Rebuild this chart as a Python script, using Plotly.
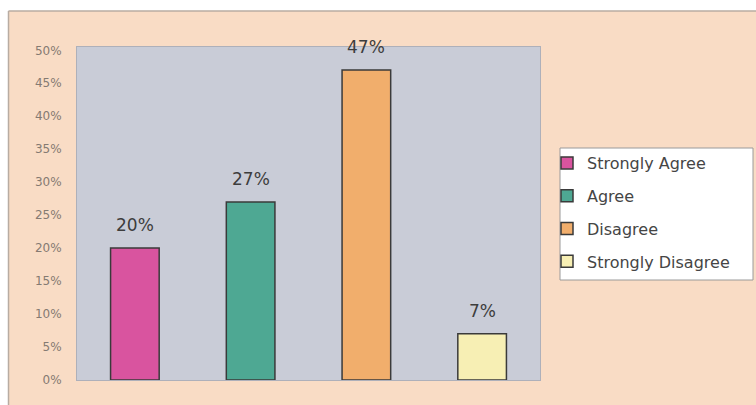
import plotly.graph_objects as go

categories = ["Strongly Agree", "Agree", "Disagree", "Strongly Disagree"]
values = [0.20, 0.27, 0.47, 0.07]
labels = ["20%", "27%", "47%", "7%"]
colors = ["#d9549f", "#4ea893", "#f1ae6c", "#f7efb4"]

W, H = 756, 405
L, R, T, B = 77, 216, 47, 25
pw, ph = W - L - R, H - T - B

def px_x(sx):
    return (sx - L) / pw

def px_y(sy):
    return (H - B - sy) / ph

fig = go.Figure()
for cat, v, c in zip(categories, values, colors):
    fig.add_trace(go.Bar(
        x=[cat], y=[v], name=cat,
        marker=dict(color=c, line=dict(color="#3a3a3a", width=1.5)),
        width=0.42, legendgroup=cat,
    ))

annotations = [
    dict(x=cat, y=v, text=lab, showarrow=False, xref="x", yref="y",
         yanchor="middle", yshift=23,
         font=dict(size=17, color="#3d3d3d", family="DejaVu Sans"))
    for cat, v, lab in zip(categories, values, labels)
]

shapes = [
    # white strips at top and left (outside the framed chart)
    dict(type="rect", xref="paper", yref="paper", x0=px_x(-5), x1=px_x(W + 5),
         y0=px_y(11), y1=px_y(-5), fillcolor="white", line=dict(width=0), layer="below"),
    dict(type="rect", xref="paper", yref="paper", x0=px_x(-5), x1=px_x(8),
         y0=px_y(H + 5), y1=px_y(-5), fillcolor="white", line=dict(width=0), layer="below"),
    dict(type="line", xref="paper", yref="paper", x0=px_x(8.5), x1=px_x(W + 5),
         y0=px_y(11), y1=px_y(11), line=dict(color="#b8aca2", width=1.5)),
    dict(type="line", xref="paper", yref="paper", x0=px_x(8.5), x1=px_x(8.5),
         y0=px_y(11), y1=px_y(H + 5), line=dict(color="#b8aca2", width=1.5)),
    # legend box
    dict(type="rect", xref="paper", yref="paper", x0=px_x(560), x1=px_x(753),
         y0=px_y(280), y1=px_y(148), fillcolor="white",
         line=dict(color="#9a9a9a", width=1), layer="below"),
]

fig.update_layout(
    width=W, height=H,
    margin=dict(l=L, r=R, t=T, b=B),
    paper_bgcolor="#f9dcc5",
    plot_bgcolor="#c9ccd7",
    barmode="overlay",
    showlegend=True,
    legend=dict(x=px_x(547), y=px_y(146), xanchor="left", yanchor="top",
                bgcolor="rgba(0,0,0,0)", borderwidth=0,
                font=dict(size=16, color="#454545", family="DejaVu Sans"),
                tracegroupgap=9, itemwidth=30),
    shapes=shapes,
    annotations=annotations,
    xaxis=dict(showticklabels=False, showgrid=False, zeroline=False,
               showline=True, mirror=True, linecolor="#aeb0ba", linewidth=1,
               ticks=""),
    yaxis=dict(range=[0, 0.505], tickvals=[i * 0.05 for i in range(11)],
               tickformat=".0%", showgrid=False, zeroline=False,
               showline=True, mirror=True, linecolor="#aeb0ba", linewidth=1,
               ticks="", ticklabelstandoff=12,
               tickfont=dict(size=12, color="#857a72", family="DejaVu Sans")),
    font=dict(family="DejaVu Sans"),
)

fig.write_html("out.html",
               config={"displayModeBar": False},
               post_script="document.body.style.margin='0';document.body.style.overflow='hidden';")
